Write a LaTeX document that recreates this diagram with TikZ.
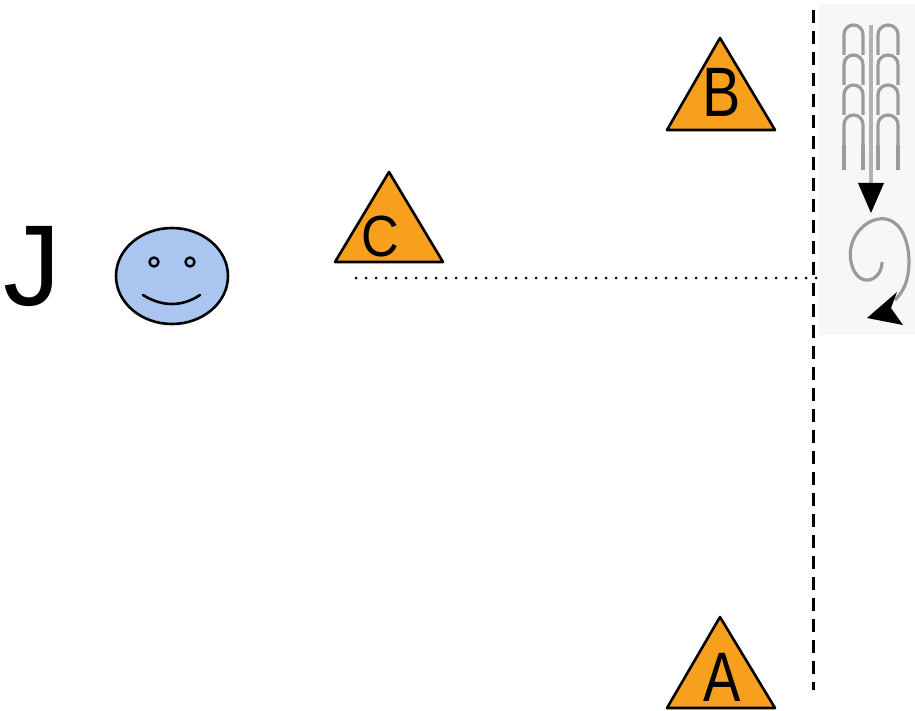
\documentclass[tikz,border=0pt]{standalone}
\usepackage{fontspec}
\setmainfont{Liberation Sans}
\usepackage{graphicx}
\usepackage{xcolor}
\usetikzlibrary{backgrounds}

\definecolor{trifill}{RGB}{246,160,30}
\definecolor{facefill}{RGB}{170,198,240}
\definecolor{icongray}{RGB}{155,155,155}

\begin{document}
\begin{tikzpicture}[x=1pt,y=-1pt]
            \useasboundingbox (0,0) rectangle (915,711);
            \def\triA{(667,708) -- (720,617) -- (775,708) -- cycle}
            \def\triB{(667,130) -- (720,38) -- (775,130) -- cycle}
            \def\triC{(335,262) -- (389,172) -- (443,262) -- cycle}
            \def\face{(172,276) ellipse (56 and 48)}

            % icon panel
            \fill[black!3] (819,4) rectangle (915,335);

            \fill[trifill] \triA;
            \fill[trifill] \triB;
            \fill[trifill] \triC;
            \fill[facefill] \face;

            \draw[line width=2.6pt, line join=round] \triA;
            \draw[line width=2.6pt, line join=round] \triB;
            \draw[line width=2.6pt, line join=round] \triC;
            \draw[line width=2.6pt] \face;
            \draw[line width=2.4pt, fill=facefill] (154,262) circle (4.5);
            \draw[line width=2.4pt, fill=facefill] (190,262) circle (4.5);
            \draw[line width=2.6pt, line cap=round] (143,295) .. controls (162,307) and (182,307) .. (200,295);

            \node[anchor=base, inner sep=0pt, font=\fontsize{115}{115}\selectfont] (J) at (32,305) {J};
            \node[anchor=base, inner sep=0pt, font=\fontsize{70}{70}\selectfont] (A) at (722,701) {\scalebox{0.8}[1]{A}};
            \node[anchor=base, inner sep=0pt, font=\fontsize{70}{70}\selectfont] (B) at (722,117) {\scalebox{0.82}[1]{B}};
            \node[anchor=base, inner sep=0pt, font=\fontsize{58}{58}\selectfont] (C) at (380,257) {\scalebox{0.9}[1]{C}};

            % lines
            \draw[line width=3pt, dash pattern=on 13pt off 8pt] (813,10) -- (813,690);
            \draw[line width=3pt, line cap=round, dash pattern=on 0pt off 10pt] (356,278) -- (822,278);

            % icon
            \foreach \top in {25,55,85,115} {
                \draw[icongray, line width=3.2pt] (844,\top+30) -- (844,\top+9.5) arc (180:0:9.5 and -9.5) -- (863,\top+30);
                \draw[icongray, line width=3.2pt] (878,\top+30) -- (878,\top+9.5) arc (180:0:10 and -9.5) -- (898,\top+30);
            }
            \draw[icongray, line width=3.2pt] (844,145) -- (844,170);
            \draw[icongray, line width=3.2pt] (863,145) -- (863,170);
            \draw[icongray, line width=3.2pt] (878,145) -- (878,170);
            \draw[icongray, line width=3.2pt] (898,145) -- (898,170);
            \draw[black!30, line width=4pt] (871,25) -- (871,186);
            \fill (858,183) -- (884,183) -- (871,213) -- cycle;
            \draw[icongray, line width=3.2pt] (882,262) .. controls (882,282) and (857,290) .. (851,262)
                .. controls (846,236) and (868,216) .. (886,219)
                .. controls (910,224) and (913,266) .. (905,285)
                .. controls (902,292) and (899,296) .. (895,300);
            \fill (867,318) -- (897,292) -- (891,308) -- (903,325) -- cycle;
        \end{tikzpicture}
\end{document}
